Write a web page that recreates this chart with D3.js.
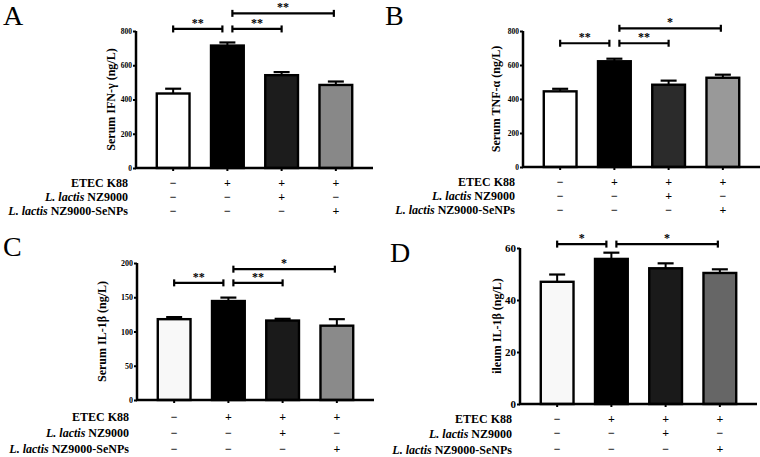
<!DOCTYPE html>
<html><head><meta charset="utf-8">
<script src="https://cdn.jsdelivr.net/npm/d3@7/dist/d3.min.js"></script>
<style>body{margin:0;background:#fff}svg{display:block}text{-webkit-font-smoothing:antialiased;fill:#000}</style>
</head><body>
<svg id="c" width="760" height="457"></svg>
<script>
// ---- data ----
const groups = ["Control", "ETEC", "ETEC+NZ9000", "ETEC+NZ9000-SeNPs"];
const ifnMean = [435, 715, 542, 485];
const ifnErr = [28, 18, 18, 20];
const tnfMean = [445, 622, 484, 525];
const tnfErr = [15, 15, 24, 18];
const il1Mean = [118, 144.5, 116, 108.5];
const il1Err = [3, 5, 2.5, 9.5];
const ileumMean = [47, 55.8, 52.2, 50.4];
const ileumErr = [2.8, 2.4, 1.9, 1.4];
const ticksA = [0, 200, 400, 600, 800];
const ticksB = [0, 200, 400, 600, 800];
const ticksC = [0, 50, 100, 150, 200];
const ticksD = [0, 20, 40, 60];
const rowLabels = [["ETEC K88"], ["L. lactis", " NZ9000"], ["L. lactis", " NZ9000-SeNPs"]];
const rowSigns = [["−", "+", "+", "+"], ["−", "−", "+", "−"], ["−", "−", "−", "+"]];
const sigA = [{a: 0, b: 1, y: 812, t: "**"}, {a: 1, b: 2, y: 812, t: "**"}, {a: 1, b: 3, y: 903, t: "**"}];
const sigB = [{a: 0, b: 1, y: 728, t: "**"}, {a: 1, b: 2, y: 728, t: "**"}, {a: 1, b: 3, y: 816, t: "*"}];
const sigC = [{a: 0, b: 1, y: 171, t: "**"}, {a: 1, b: 2, y: 171, t: "**"}, {a: 1, b: 3, y: 191, t: "*"}];
const sigD = [{a: 0, b: 1, y: 61.5, t: "*"}, {a: 1, b: 3, y: 61.5, t: "*"}];

// ---- layout / style ----
const colorsA = ["#ffffff", "#000000", "#1c1c1c", "#888888"];
const colorsB = ["#ffffff", "#000000", "#2b2b2b", "#999999"];
const colorsC = ["#f8f8f8", "#000000", "#1a1a1a", "#8a8a8a"];
const colorsD = ["#f8f8f8", "#000000", "#1a1a1a", "#666666"];
const FONT = "'Liberation Serif','Times New Roman',serif";

const panels = [
  {letter: "A", lx: 3, ly: 25, x0: 136, yTop: 31, yBot: 168, max: 800, ticks: ticksA, mean: ifnMean, err: ifnErr, colors: colorsA, label: "Serum IFN-γ (ng/L)", labelX: 112, sig: sigA, rows: [16, 30, 44], tickFont: 7.5},
  {letter: "B", lx: 385, ly: 25, x0: 523, yTop: 31, yBot: 167, max: 800, ticks: ticksB, mean: tnfMean, err: tnfErr, colors: colorsB, label: "Serum TNF-α (ng/L)", labelX: 497, sig: sigB, rows: [16, 30, 44], tickFont: 7.5},
  {letter: "C", lx: 3, ly: 256, x0: 137, yTop: 263, yBot: 400, max: 200, ticks: ticksC, mean: il1Mean, err: il1Err, colors: colorsC, label: "Serum IL-1β (ng/L)", labelX: 103, sig: sigC, rows: [18, 34, 50], tickFont: 8},
  {letter: "D", lx: 390, ly: 262, x0: 520, yTop: 248, yBot: 404, max: 60, ticks: ticksD, mean: ileumMean, err: ileumErr, colors: colorsD, label: "ileum IL-1β (ng/L)", labelX: 498, sig: sigD, rows: [16, 30.5, 46.5], tickFont: 11}
];

const svg = d3.select("#c").style("font-family", FONT);

panels.forEach(p => {
  const g = svg.append("g");
  const x = d3.scaleBand().domain(groups).range([p.x0, p.x0 + 237]).paddingInner(0.352).paddingOuter(0.361);
  const y = d3.scaleLinear().domain([0, p.max]).range([p.yBot, p.yTop]);
  const cx = i => x(groups[i]) + x.bandwidth() / 2;

  g.append("text").attr("x", p.lx).attr("y", p.ly).attr("font-size", 28).attr("fill", "#111").text(p.letter);

  // bars
  g.selectAll("rect.bar").data(p.mean).join("rect")
    .attr("x", (d, i) => x(groups[i]) + 1.2)
    .attr("width", x.bandwidth() - 2.4)
    .attr("y", d => y(d))
    .attr("height", d => p.yBot - y(d))
    .attr("fill", (d, i) => p.colors[i])
    .attr("stroke", "#000").attr("stroke-width", 2.4);

  // error bars (upper)
  p.mean.forEach((m, i) => {
    const top = y(m + p.err[i]);
    g.append("line").attr("x1", cx(i)).attr("x2", cx(i)).attr("y1", y(m)).attr("y2", top).attr("stroke", "#000").attr("stroke-width", 2);
    g.append("line").attr("x1", cx(i) - 8).attr("x2", cx(i) + 8).attr("y1", top).attr("y2", top).attr("stroke", "#000").attr("stroke-width", 2.2);
  });

  // y axis
  const yAxis = d3.axisLeft(y).tickValues(p.ticks).tickSize(3).tickPadding(1).tickFormat(d3.format("d"));
  const ya = g.append("g").attr("transform", `translate(${p.x0},0)`).call(yAxis);
  ya.select(".domain").attr("stroke-width", 2.5).attr("d", `M0,${p.yTop}V${p.yBot + 1}`);
  ya.selectAll(".tick line").attr("stroke-width", 2);
  ya.selectAll(".tick text").attr("font-size", p.tickFont).attr("font-weight", "bold").attr("font-family", FONT).attr("fill", "#000");

  // x axis
  const xAxis = d3.axisBottom(x).tickSize(3).tickFormat("");
  const xa = g.append("g").attr("transform", `translate(0,${p.yBot})`).call(xAxis);
  xa.select(".domain").attr("stroke-width", 2.5).attr("d", `M${p.x0 - 1},0H${p.x0 + 237}`);
  xa.selectAll(".tick line").attr("stroke-width", 2);

  // y label
  const yMid = (p.yTop + p.yBot) / 2;
  g.append("text").attr("transform", `translate(${p.labelX},${yMid}) rotate(-90)`)
    .attr("text-anchor", "middle").attr("dominant-baseline", "middle")
    .attr("font-size", 12).attr("font-weight", "bold").attr("fill", "#000").text(p.label);

  // significance brackets
  p.sig.forEach(s => {
    const x1 = cx(s.a) + (s.a === 1 ? 5 : 0);
    const x2 = cx(s.b) - (s.b === 1 ? 5 : 0) - (s.b === 3 ? 2 : 0);
    const yy = y(s.y);
    g.append("line").attr("x1", x1).attr("x2", x2).attr("y1", yy).attr("y2", yy).attr("stroke", "#000").attr("stroke-width", 2.2);
    [x1, x2].forEach(xx => g.append("line").attr("x1", xx).attr("x2", xx).attr("y1", yy - 3.5).attr("y2", yy + 3.5).attr("stroke", "#000").attr("stroke-width", 2.2));
    g.append("text").attr("x", (x1 + x2) / 2).attr("y", yy - 2).attr("text-anchor", "middle")
      .attr("font-size", 12).attr("font-weight", "bold").attr("fill", "#000").text(s.t);
  });

  // treatment table
  rowLabels.forEach((lab, r) => {
    const ty = p.yBot + p.rows[r];
    const t = g.append("text").attr("x", p.x0 - 8).attr("y", ty).attr("text-anchor", "end")
      .attr("dominant-baseline", "middle").attr("font-size", 12).attr("font-weight", "bold").attr("fill", "#000");
    if (lab.length === 1) t.text(lab[0]);
    else {
      t.append("tspan").attr("font-style", "italic").text(lab[0]);
      t.append("tspan").text(lab[1]);
    }
    rowSigns[r].forEach((s, i) => {
      g.append("text").attr("x", cx(i)).attr("y", ty).attr("text-anchor", "middle")
        .attr("dominant-baseline", "middle").attr("font-size", 12).attr("font-weight", "bold").attr("fill", "#000").text(s);
    });
  });
});
</script>
</body></html>
